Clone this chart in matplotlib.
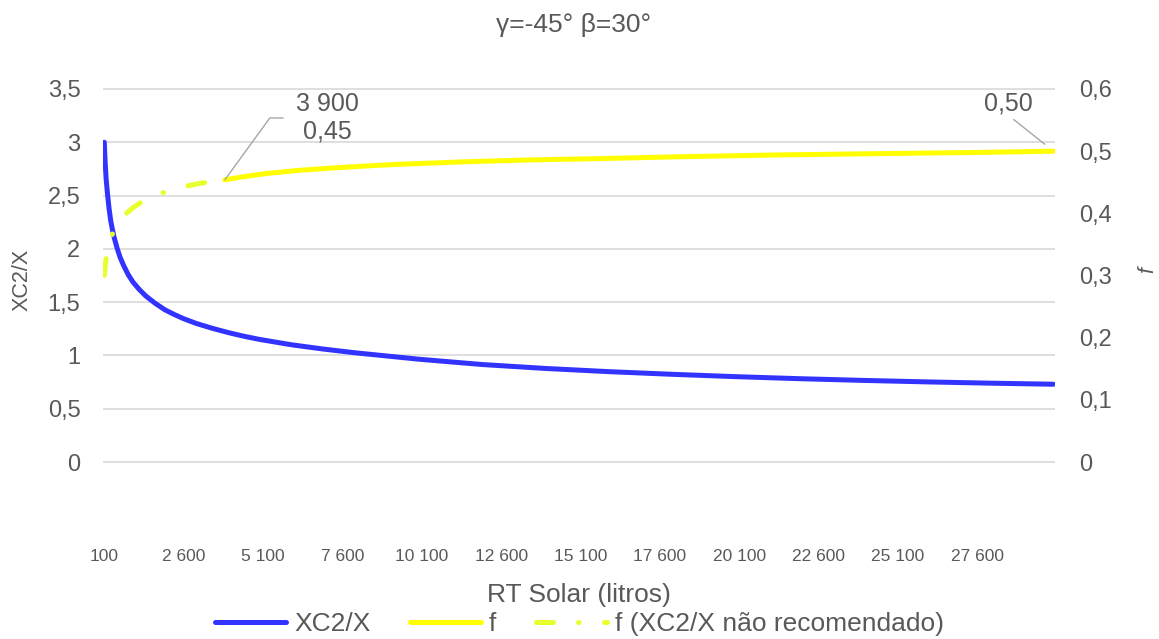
import numpy as np
import matplotlib.pyplot as plt
from matplotlib.ticker import FuncFormatter

plt.rcParams['font.family'] = ['Liberation Sans', 'DejaVu Sans']

# RT Solar (litros) -> XC2/X
rt_xc = [100, 130, 160, 200, 250, 300, 350, 400, 500, 600, 700, 850, 1000, 1200,
         1400, 1700, 2000, 2300, 2600, 3000, 3500, 4000, 4500, 5000, 6000, 7000,
         8000, 9000, 10000, 11000, 12000, 14000, 16000, 18000, 20000, 22000,
         24000, 26000, 28000, 30000]
xc2_x = [3.00, 2.80, 2.65, 2.52, 2.38, 2.27, 2.19, 2.12, 2.01, 1.92, 1.85, 1.76,
         1.69, 1.62, 1.56, 1.49, 1.43, 1.385, 1.345, 1.30, 1.255, 1.215, 1.18,
         1.15, 1.10, 1.06, 1.025, 0.995, 0.965, 0.94, 0.915, 0.878, 0.848, 0.823,
         0.801, 0.782, 0.766, 0.752, 0.74, 0.73]

# f onde XC2/X nao e recomendado
rt_f_low = [100, 150, 200, 250, 300, 400, 500, 600, 800, 1000, 1300, 1600, 2000,
            2600, 3200, 3900]
f_low = [0.300, 0.325, 0.340, 0.352, 0.360, 0.372, 0.381, 0.389, 0.400, 0.409,
         0.419, 0.427, 0.434, 0.443, 0.449, 0.454]

# f na faixa recomendada
rt_f = [3900, 4500, 5200, 6200, 7300, 8300, 9400, 10500, 11500, 13600, 15700,
        18200, 21400, 24500, 27700, 30000]
f_vals = [0.454, 0.459, 0.464, 0.469, 0.473, 0.476, 0.479, 0.481, 0.483, 0.486,
          0.488, 0.491, 0.494, 0.496, 0.498, 0.500]

x_ticks = np.arange(100, 30000, 2500)
left_ticks = np.arange(0, 3.51, 0.5)
right_ticks = np.arange(0, 0.61, 0.1)

grey = '#595959'


def comma(v, pos=None):
    return f"{round(v, 2):g}".replace('.', ',')


def thousands(v):
    return f"{int(v):,}".replace(',', ' ')


fig = plt.figure(figsize=(11.59, 6.39), dpi=100)
ax = fig.add_axes([0.0886, 0.1862, 0.8217, 0.6792])
ax2 = ax.twinx()

l1, = ax.plot(rt_xc, xc2_x, color='#3333FF', lw=3.6, solid_capstyle='round',
              solid_joinstyle='round', label='XC2/X')
l2, = ax2.plot(rt_f, f_vals, color='#FFFF00', lw=3.6, solid_capstyle='round',
               solid_joinstyle='round', label='f')
l3, = ax2.plot(rt_f_low, f_low, color='#E8FF2E', lw=3.6,
               ls=(0, (3.4, 5.0, 0.1, 5.1)), dash_capstyle='round',
               label='f (XC2/X não recomendado)')

ax.set_xlim(50, 30050)
ax.set_ylim(-0.544, 3.528)
ax2.set_ylim(-0.0933, 0.6048)

ax.set_yticks(left_ticks)
ax2.set_yticks(right_ticks)
ax.yaxis.set_major_formatter(FuncFormatter(comma))
ax2.yaxis.set_major_formatter(FuncFormatter(comma))
ax.set_xticks(x_ticks)
ax.set_xticklabels([thousands(t) for t in x_ticks])

ax.grid(axis='y', color='#D9D9D9', lw=1.2)
ax.set_axisbelow(True)
for a in (ax, ax2):
    for s in a.spines.values():
        s.set_visible(False)
ax.tick_params(axis='x', length=0, pad=21, labelsize=12.5, colors=grey)
ax.tick_params(axis='y', length=0, pad=16, labelsize=17, colors=grey)
ax2.tick_params(axis='y', length=0, pad=17, labelsize=17, colors=grey)

fig.text(574 / 1159, 1 - 31.7 / 639, 'γ=-45° β=30°', ha='center', va='baseline',
         fontsize=19, color=grey)
fig.text(579 / 1159, 1 - 602 / 639, 'RT Solar (litros)', ha='center',
         va='baseline', fontsize=19, color=grey)
fig.text(22 / 1159, 1 - 280 / 639, 'XC2/X', rotation=90, ha='center',
         va='center', fontsize=15.5, color=grey)
fig.text(1148 / 1159, 1 - 270 / 639, 'f', rotation=90, ha='center',
         va='center', fontsize=15.5, color=grey, style='italic')

# rotulos de dados
ax2.annotate(f"{thousands(rt_f[0])}\n{f_vals[0]:.2f}".replace('.', ','),
             xy=(rt_f[0], f_vals[0]), xytext=(327, 639 - 118),
             textcoords='figure pixels', ha='center', va='center',
             multialignment='center', fontsize=18, color=grey,
             arrowprops=dict(arrowstyle='-', color='#A6A6A6', lw=1,
                             shrinkA=7, shrinkB=0, relpos=(0, 0.5),
                             connectionstyle='angle,angleA=0,angleB=54'))
ax2.annotate(f"{f_vals[-1]:.2f}".replace('.', ','),
             xy=(rt_f[-1], f_vals[-1]), xytext=(1008, 639 - 103),
             textcoords='figure pixels', ha='center', va='center',
             fontsize=18, color=grey,
             arrowprops=dict(arrowstyle='-', color='#A6A6A6', lw=1,
                             shrinkA=2, shrinkB=8, relpos=(0.5, 0)))

fig.legend([l1, l2, l3], [l1.get_label(), l2.get_label(), l3.get_label()],
           loc='center', bbox_to_anchor=(0.5, 0.0235), ncol=3, frameon=False,
           fontsize=19, handlelength=2.7, handletextpad=0.3,
           columnspacing=1.5, labelcolor=grey)

fig.savefig('out.png', dpi=100)
